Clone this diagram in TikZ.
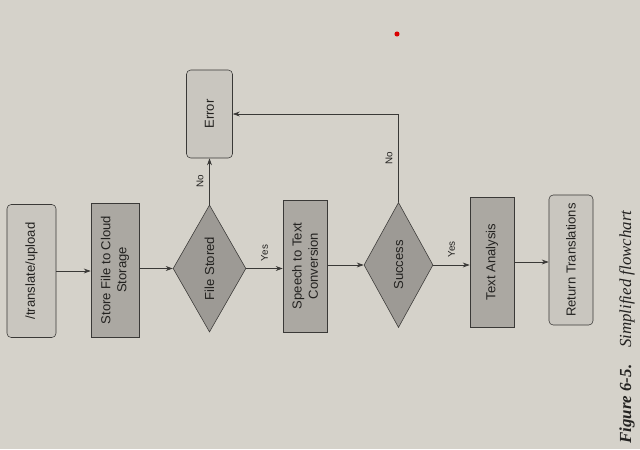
\documentclass[tikz,border=0pt]{standalone}
\usepackage{fontspec}
\setmainfont{Liberation Serif}
\setsansfont{Liberation Sans}
\usetikzlibrary{shapes.geometric,arrows.meta}
\definecolor{paper}{HTML}{D5D2CA}
\definecolor{lightbox}{HTML}{C9C6BF}
\definecolor{darkbox}{HTML}{ABA8A2}
\definecolor{diamondfill}{HTML}{9D9A95}
\definecolor{linecol}{HTML}{3A3937}
\definecolor{textcol}{HTML}{232220}
\newcommand{\boxfont}{\sffamily\fontsize{9.3}{11.5}\selectfont}
\newcommand{\answerfont}{\sffamily\fontsize{7}{8}\selectfont}
\newcommand{\captionfont}{\rmfamily\itshape\fontsize{12}{14}\selectfont}

\begin{document}
\begin{tikzpicture}
  [x=0.025cm,y=-0.025cm,>={Stealth[length=5pt,width=3.5pt]},
   conn/.style={draw=linecol,line width=0.5pt},
   terminal/.style={draw=linecol,fill=lightbox,rounded corners=3pt,rotate=90,align=center,text=textcol,font=\boxfont},
   process/.style={draw=linecol,fill=darkbox,rotate=90,align=center,text=textcol,font=\boxfont},
   decision/.style={diamond,draw=linecol,fill=diamondfill,rotate=90,inner sep=0pt,text=textcol,font=\boxfont},
   answer/.style={rotate=90,text=textcol,font=\answerfont},]

\fill[paper] (0,0) rectangle (640,449);
\useasboundingbox (0,0) rectangle (640,449);

% boxes
\node[terminal,minimum width=3.325cm,minimum height=1.225cm] (upload) at (31.5,271) {/translate/upload};
\node[process,minimum width=3.35cm,minimum height=1.2cm] (store) at (115,270) {Store File to Cloud\\Storage};
\node[decision,minimum width=3.175cm,minimum height=1.775cm] (stored) at (209.5,268.5) {File Stored};
\node[terminal,minimum width=2.2cm,minimum height=1.15cm] (error) at (209.5,114) {Error};
\node[process,minimum width=3.3cm,minimum height=1.1cm] (speech) at (305,266) {Speech to Text\\Conversion};
\node[decision,minimum width=3.125cm,minimum height=1.725cm] (success) at (398.5,265) {Success};
\node[process,minimum width=3.25cm,minimum height=1.1cm] (analysis) at (492,262) {Text Analysis};
\node[terminal,minimum width=3.25cm,minimum height=1.1cm] (translations) at (571,260) {Return Translations};

% arrows
\draw[conn,->] (upload.south) -- (upload.south -| store.north);
\draw[conn,->] (store.south |- stored.north) -- (stored.north);
\draw[conn,->] (stored) -- node[answer,anchor=south,inner sep=4pt] {No} (error);
\draw[conn,->] (stored.south) -- node[answer,anchor=west,inner sep=5pt] {Yes} (stored.south -| speech.north);
\draw[conn,->] (speech.south |- success.north) -- (success.north);
\draw[conn,->] (success.east) |- node[pos=0.25,answer,anchor=south,inner sep=4pt] {No} (error.south);
\draw[conn,->] (success.south) -- node[answer,anchor=west,inner sep=5pt] {Yes} (success.south -| analysis.north);
\draw[conn,->] (analysis.south) -- (analysis.south -| translations.north);

\node[rotate=90,text=textcol,font=\captionfont] (caption) at (627,327) {\textbf{Figure 6-5.}\quad Simplified flowchart};
\fill[red!85!black] (397,34) circle (1.8pt);

\end{tikzpicture}
\end{document}
